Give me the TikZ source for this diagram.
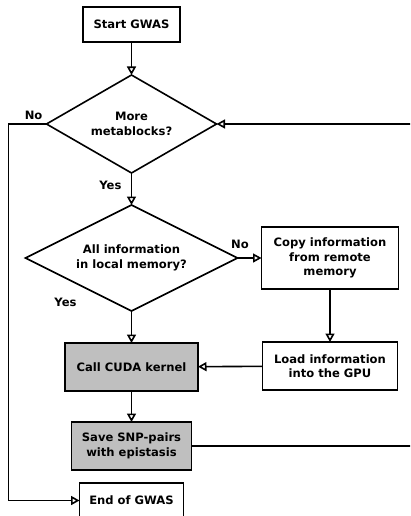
\documentclass[tikz,border=0pt]{standalone}
\usepackage{fontspec}
\setmainfont{DejaVu Sans}
\usetikzlibrary{positioning,arrows.meta,shapes.geometric}

\begin{document}
\begin{tikzpicture}[
    x=1bp, y=1bp,
    block/.style={draw, line width=1.6bp, outer sep=0pt, align=center, inner sep=2bp, font=\bfseries\fontsize{11.6}{14.5}\selectfont},
    decision/.style={draw, diamond, line width=1.6bp, outer sep=0pt, align=center, inner sep=1bp, font=\bfseries\fontsize{11.6}{14.5}\selectfont},
    arrow/.style={-{Triangle[open, length=8.5bp, width=9bp]}, line width=1.6bp},
    label/.style={font=\bfseries\fontsize{11.6}{14.5}\selectfont},
    node distance=32bp
]
\clip (0,0) rectangle (410,-516);
% Main column
\node[block, minimum width=97bp, minimum height=35bp] (start) at (131.5,-24.5) {Start GWAS};
\node[decision, below=33bp of start, aspect=1.73, minimum width=170bp, minimum height=98bp] (metab) {More\\metablocks?};
\node[decision, below=of metab, aspect=2, minimum width=212bp, minimum height=106bp] (local) {All information\\in local memory?};
\node[block, below=of local, fill=gray!50, minimum width=133bp, minimum height=48bp] (cuda) {Call CUDA kernel};
\node[block, below=31bp of cuda, fill=gray!50, minimum width=120bp, minimum height=48bp] (save) {Save SNP-pairs\\with epistasis};
\node[block, below=13bp of save, minimum width=104bp, minimum height=35bp] (end) {End of GWAS};
% Remote branch
\node[block, right=24bp of local, minimum width=137bp, minimum height=62bp] (copy) {Copy information\\from remote\\memory};
\node[block, below=53bp of copy, minimum width=135bp, minimum height=48bp] (load) {Load information\\into the GPU};

% Arrows
\draw[arrow] (start) -- (metab);
\draw[arrow] (metab) -- node[label, pos=0.4, left, xshift=-6bp]{Yes} (local);
\draw[arrow] (metab.west) node[label, above left]{No} -- ++(-38,0) |- (end);
\draw[arrow] (local) -- node[label, pos=0, xshift=-66bp, yshift=9bp]{Yes} (cuda);
\draw[arrow] (local.east) -- node[label, pos=0.1, above=5bp]{No} (copy);
\draw[arrow] (copy) -- (load);
\draw[arrow] (load) -- (cuda);
\draw[arrow] (cuda) -- (save);
\draw[arrow] (save.east) -- ++(240,0) |- (metab.east);
\end{tikzpicture}
\end{document}
